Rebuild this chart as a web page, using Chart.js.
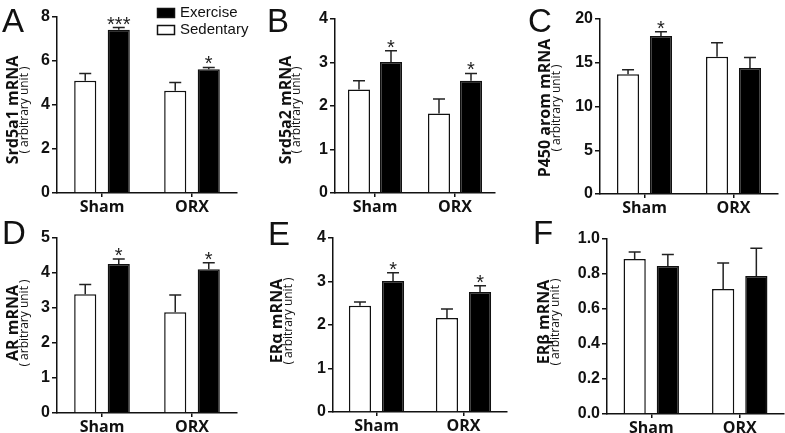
<!DOCTYPE html>
<html>
<head>
<meta charset="utf-8">
<script src="https://cdn.jsdelivr.net/npm/chart.js@4.4.1/dist/chart.umd.min.js"></script>
<style>
  html, body { margin: 0; padding: 0; background: #fff; }
  #wrap { position: relative; width: 785px; height: 433px; overflow: hidden; }
  canvas { position: absolute; }
</style>
</head>
<body>
<div id="wrap">
  <canvas id="panelA"></canvas>
  <canvas id="panelB"></canvas>
  <canvas id="panelC"></canvas>
  <canvas id="panelD"></canvas>
  <canvas id="panelE"></canvas>
  <canvas id="panelF"></canvas>
</div>
<script>
const groups = ['Sham', 'ORX'];
const seriesNames = ['Sedentary', 'Exercise'];

// A - Srd5a1
const srd5a1Sed = [5.10, 4.65];
const srd5a1SedErr = [0.33, 0.37];
const srd5a1Ex = [7.42, 5.63];
const srd5a1ExErr = [0.10, 0.08];
const srd5a1Stars = ['***', '*'];
const srd5a1Ticks = [0, 2, 4, 6, 8];

// B - Srd5a2
const srd5a2Sed = [2.38, 1.83];
const srd5a2SedErr = [0.20, 0.33];
const srd5a2Ex = [3.01, 2.58];
const srd5a2ExErr = [0.26, 0.17];
const srd5a2Stars = ['*', '*'];
const srd5a2Ticks = [0, 1, 2, 3, 4];

// C - P450 arom
const aromSed = [13.7, 15.7];
const aromSedErr = [0.5, 1.6];
const aromEx = [18.05, 14.4];
const aromExErr = [0.5, 1.2];
const aromStars = ['*', ''];
const aromTicks = [0, 5, 10, 15, 20];

// D - AR
const arSed = [3.39, 2.88];
const arSedErr = [0.28, 0.49];
const arEx = [4.26, 4.11];
const arExErr = [0.14, 0.18];
const arStars = ['*', '*'];
const arTicks = [0, 1, 2, 3, 4, 5];

// E - ERalpha
const eraSed = [2.44, 2.16];
const eraSedErr = [0.09, 0.21];
const eraEx = [3.01, 2.76];
const eraExErr = [0.19, 0.14];
const eraStars = ['*', '*'];
const eraTicks = [0, 1, 2, 3, 4];

// F - ERbeta
const erbSed = [0.886, 0.714];
const erbSedErr = [0.040, 0.149];
const erbEx = [0.846, 0.789];
const erbExErr = [0.066, 0.158];
const erbStars = ['', ''];
const erbTicks = [0, 0.2, 0.4, 0.6, 0.8, 1.0];

const ink = '#111';

// error bars (upward only) + significance stars
const errorBars = {
  id: 'errorBars',
  afterDatasetsDraw(chart) {
    const ctx = chart.ctx;
    const y = chart.scales.y;
    chart.data.datasets.forEach((ds, i) => {
      const meta = chart.getDatasetMeta(i);
      meta.data.forEach((bar, j) => {
        const top = y.getPixelForValue(ds.data[j] + ds.err[j]);
        ctx.save();
        ctx.strokeStyle = '#222';
        ctx.lineWidth = 1.5;
        ctx.beginPath();
        ctx.moveTo(bar.x, bar.y);
        ctx.lineTo(bar.x, top);
        ctx.moveTo(bar.x - 6, top);
        ctx.lineTo(bar.x + 6, top);
        ctx.stroke();
        if (ds.stars && ds.stars[j]) {
          ctx.fillStyle = '#222';
          ctx.font = '20px "Liberation Sans"';
          ctx.textAlign = 'center';
          ctx.textBaseline = 'alphabetic';
          ctx.fillText(ds.stars[j], bar.x, top + 3);
        }
        ctx.restore();
      });
    });
  }
};

// panel letter, two-line y title, legend (panel A)
const panelText = {
  id: 'panelText',
  afterDraw(chart, args, o) {
    const ctx = chart.ctx;
    ctx.save();
    ctx.fillStyle = ink;
    ctx.font = '33px "Liberation Sans"';
    ctx.textAlign = 'left';
    ctx.textBaseline = 'alphabetic';
    ctx.fillText(o.letter, o.letterX, o.letterY);

    if (o.legend) {
      const items = [chart.data.datasets[1], chart.data.datasets[0]];
      ctx.font = '15px "Liberation Sans"';
      ctx.textBaseline = 'middle';
      items.forEach((ds, k) => {
        const ty = 8 + k * 17;
        ctx.fillStyle = ds.backgroundColor;
        ctx.fillRect(157, ty, 18, 10);
        ctx.strokeStyle = ink;
        ctx.lineWidth = 1.5;
        ctx.strokeRect(157.5, ty + 0.5, 17, 9);
        ctx.fillStyle = ink;
        ctx.fillText(ds.label, 180, ty + 5);
      });
    }

    ctx.translate(o.titleX, o.titleY);
    ctx.rotate(-Math.PI / 2);
    ctx.textAlign = 'center';
    ctx.textBaseline = 'middle';
    ctx.fillStyle = ink;
    ctx.font = 'bold 16px "Open Sans"';
    ctx.fillText(o.title, 0, 0);
    ctx.font = '12px "Open Sans"';
    ctx.fillText('( arbitrary unit )', 0, o.subX - o.titleX);
    ctx.restore();
  }
};

function makePanel(p) {
  const canvas = document.getElementById(p.id);
  canvas.width = p.box.w;
  canvas.height = p.box.h;
  canvas.style.left = p.box.x + 'px';
  canvas.style.top = p.box.y + 'px';

  const a = p.area;
  const lastTick = p.ticks[p.ticks.length - 1];

  new Chart(canvas, {
    type: 'bar',
    data: {
      labels: groups,
      datasets: [
        { label: seriesNames[0], data: p.sed, err: p.sedErr, stars: [], backgroundColor: '#ffffff', borderColor: ink, borderWidth: 1.5 },
        { label: seriesNames[1], data: p.ex, err: p.exErr, stars: p.stars, backgroundColor: '#000000', borderColor: ink, borderWidth: 1.5 }
      ]
    },
    options: {
      responsive: false,
      animation: false,
      layout: { autoPadding: false, padding: { left: 0, top: a.top, right: p.box.w - a.right, bottom: 0 } },
      datasets: { bar: { categoryPercentage: p.cp, barPercentage: p.bp } },
      plugins: {
        legend: { display: false },
        tooltip: { enabled: false },
        panelText: p.deco
      },
      scales: {
        x: {
          offset: true,
          grid: { offset: false, drawOnChartArea: false, tickLength: 4, color: ink, lineWidth: 1.5 },
          border: { color: ink, width: 1.5 },
          ticks: { color: ink, font: { family: 'Open Sans', weight: 'bold', size: 16 }, padding: 1, maxRotation: 0 },
          afterFit: s => { s.height = p.box.h - a.bottom; }
        },
        y: {
          min: 0,
          max: lastTick,
          afterBuildTicks: s => { s.ticks = p.ticks.map(v => ({ value: v })); },
          grid: { drawOnChartArea: false, tickLength: 5, color: ink, lineWidth: 1.5 },
          border: { color: ink, width: 1.5 },
          ticks: { color: ink, font: { family: 'Liberation Sans', weight: 'bold', size: 16 }, padding: 2, callback: v => Number(v).toFixed(p.decimals) },
          afterFit: s => { s.width = a.left; }
        }
      }
    },
    plugins: [errorBars, panelText]
  });
}

function build() {
  makePanel({
    id: 'panelA', box: { x: 0, y: 0, w: 255, h: 215 }, area: { left: 57, top: 17, right: 237, bottom: 193 },
    sed: srd5a1Sed, sedErr: srd5a1SedErr, ex: srd5a1Ex, exErr: srd5a1ExErr, stars: srd5a1Stars, ticks: srd5a1Ticks,
    decimals: 0, cp: 0.745, bp: 0.66,
    deco: { letter: 'A', letterX: 2, letterY: 32, title: 'Srd5a1 mRNA', titleX: 13, subX: 25, titleY: 110, legend: true }
  });
  makePanel({
    id: 'panelB', box: { x: 255, y: 0, w: 260, h: 215 }, area: { left: 80, top: 19, right: 240, bottom: 193 },
    sed: srd5a2Sed, sedErr: srd5a2SedErr, ex: srd5a2Ex, exErr: srd5a2ExErr, stars: srd5a2Stars, ticks: srd5a2Ticks,
    decimals: 0, cp: 0.8, bp: 0.69,
    deco: { letter: 'B', letterX: 12, letterY: 32, title: 'Srd5a2 mRNA', titleX: 31, subX: 42, titleY: 110 }
  });
  makePanel({
    id: 'panelC', box: { x: 515, y: 0, w: 270, h: 215 }, area: { left: 85, top: 19, right: 263, bottom: 194 },
    sed: aromSed, sedErr: aromSedErr, ex: aromEx, exErr: aromExErr, stars: aromStars, ticks: aromTicks,
    decimals: 0, cp: 0.74, bp: 0.67,
    deco: { letter: 'C', letterX: 13, letterY: 32, title: 'P450 arom mRNA', titleX: 30, subX: 42, titleY: 108 }
  });
  makePanel({
    id: 'panelD', box: { x: 0, y: 215, w: 255, h: 218 }, area: { left: 57, top: 23, right: 237, bottom: 198 },
    sed: arSed, sedErr: arSedErr, ex: arEx, exErr: arExErr, stars: arStars, ticks: arTicks,
    decimals: 0, cp: 0.745, bp: 0.66,
    deco: { letter: 'D', letterX: 2, letterY: 29, title: 'AR mRNA', titleX: 13, subX: 25, titleY: 108 }
  });
  makePanel({
    id: 'panelE', box: { x: 255, y: 215, w: 260, h: 218 }, area: { left: 78, top: 23, right: 252, bottom: 197 },
    sed: eraSed, sedErr: eraSedErr, ex: eraEx, exErr: eraExErr, stars: eraStars, ticks: eraTicks,
    decimals: 0, cp: 0.76, bp: 0.67,
    deco: { letter: 'E', letterX: 13, letterY: 30, title: 'ERα mRNA', titleX: 22, subX: 34, titleY: 106 }
  });
  makePanel({
    id: 'panelF', box: { x: 515, y: 215, w: 270, h: 218 }, area: { left: 92, top: 24, right: 269, bottom: 199 },
    sed: erbSed, sedErr: erbSedErr, ex: erbEx, exErr: erbExErr, stars: erbStars, ticks: erbTicks,
    decimals: 1, cp: 0.75, bp: 0.67,
    deco: { letter: 'F', letterX: 18, letterY: 29, title: 'ERβ mRNA', titleX: 29, subX: 41, titleY: 107 }
  });
}

Promise.all([
  document.fonts.load('bold 16px "Open Sans"'),
  document.fonts.load('12px "Open Sans"'),
  document.fonts.load('15px "Liberation Sans"'),
  document.fonts.load('bold 16px "Liberation Sans"')
]).then(build, build);
</script>
</body>
</html>
